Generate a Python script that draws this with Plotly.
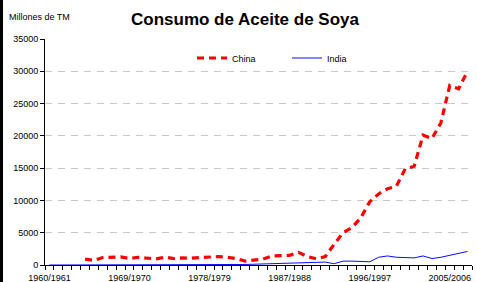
import plotly.graph_objects as go

seasons = [f"{y}/{y+1}" for y in range(1960, 2008)]

china = [None, None, None, None,
         900, 700, 1150, 1200, 1250, 1000, 1200, 1050, 950, 1200, 1000, 1100,
         1050, 1150, 1200, 1300, 1200, 1000, 600, 700, 900, 1400, 1450, 1500,
         1950, 1300, 950, 1300, 3200, 5000, 5800, 7300, 9800, 11000, 11800, 12200,
         14900, 15300, 20100, 19600, 22000, 27800, 27300, 30000]

india = [0, 0, 0, 0, 0, 0, 0, 0, 0, 0, 0, 0, 0, 0, 0, 20,
         60, 100, 100, 100, 100, 80, 80, 120, 150, 200, 250, 300,
         300, 300, 400, 450, 200, 600, 600, 500, 500, 1200, 1400, 1200,
         1100, 1100, 1400, 1000, 1200, 1500, 1800, 2100]

label_seasons = ["1960/1961", "1969/1970", "1978/1979", "1987/1988", "1996/1997", "2005/2006"]
y_ticks = [0, 5000, 10000, 15000, 20000, 25000, 30000, 35000]

x = list(range(len(seasons)))
FONT = "Liberation Sans, Arial, sans-serif"

W, H = 477, 282
L, R, T, B = 45, 5, 39, 17
pw = W - L - R
ph = H - T - B

fig = go.Figure()
fig.add_trace(go.Scatter(x=x, y=china, name="China", mode="lines",
                         line=dict(color="#ff0000", width=3.2, dash="7px,5px"),
                         hovertext=seasons))
fig.add_trace(go.Scatter(x=x, y=india, name="India", mode="lines",
                         line=dict(color="#0a0aff", width=1),
                         hovertext=seasons))

fig.update_layout(
    width=W, height=H,
    margin=dict(l=L, r=R, t=T, b=B, autoexpand=False),
    paper_bgcolor="white", plot_bgcolor="white",
    font=dict(family=FONT, size=9, color="black"),
    showlegend=True,
    legend=dict(orientation="h", x=(192 - L) / pw, xanchor="left",
                y=(265 - 58) / ph, yanchor="middle",
                font=dict(size=9), bgcolor="rgba(0,0,0,0)",
                entrywidth=50, entrywidthmode="pixels",
                itemwidth=30, tracegroupgap=0),
    xaxis=dict(range=[-0.5, len(seasons) - 0.5],
               tickmode="array",
               tickvals=[seasons.index(s) for s in label_seasons],
               ticktext=label_seasons,
               ticks="", showgrid=False, zeroline=False,
               showline=True, linecolor="black", linewidth=1,
               tickfont=dict(size=9), ticklabelstandoff=4,
               minor=dict(tickmode="array",
                          tickvals=[i - 0.5 for i in range(len(seasons) + 1)],
                          ticks="outside", ticklen=4, tickcolor="black",
                          showgrid=False)),
    yaxis=dict(range=[0, 35000], tickmode="array", tickvals=y_ticks,
               ticktext=[str(v) for v in y_ticks],
               ticks="outside", ticklen=4, tickcolor="black",
               showline=True, linecolor="black", linewidth=1,
               showgrid=True, gridcolor="#c8c8c8", griddash="7px,6px", gridwidth=1,
               zeroline=False, tickfont=dict(size=9)),
    annotations=[
        dict(text="<b>Consumo de Aceite de Soya</b>", xref="paper", yref="paper",
             x=(245.5 - L) / pw, y=(265 - 20) / ph,
             xanchor="center", yanchor="middle", showarrow=False,
             font=dict(size=17, family=FONT, color="black")),
        dict(text="Millones de TM", xref="paper", yref="paper",
             x=(7 - L) / pw, y=(265 - 17) / ph,
             xanchor="left", yanchor="middle", showarrow=False,
             font=dict(size=9, family=FONT, color="black")),
    ],
    shapes=[dict(type="line", xref="paper", yref="paper",
                 x0=(1.5 - L) / pw, x1=(1.5 - L) / pw,
                 y0=(265 - H) / ph, y1=265 / ph,
                 line=dict(color="black", width=3))],
)

fig.write_html("out.html", config={"displayModeBar": False},
               post_script="document.body.style.margin='0';document.body.style.overflow='hidden';")
